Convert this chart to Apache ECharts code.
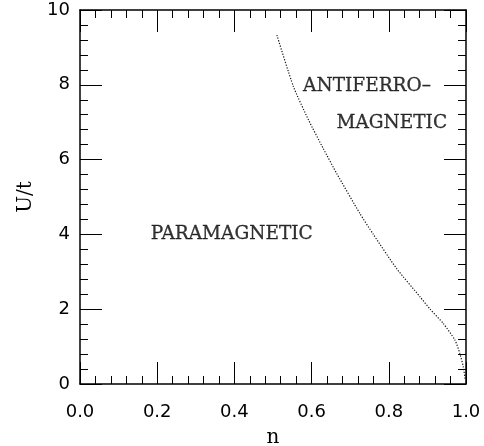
<!DOCTYPE html>
<html><head><meta charset="utf-8">
<script src="https://cdn.jsdelivr.net/npm/echarts@6/dist/echarts.min.js"></script>
<style>html,body{margin:0;padding:0;background:#fff}#c{width:484px;height:446px}</style>
</head><body><div id="c"></div>
<script>
// Phase boundary (n, U/t)
const boundaryN = [0.510, 0.553, 0.592, 0.630, 0.665, 0.725, 0.760, 0.820, 0.881, 0.907, 0.941, 0.971, 0.984, 0.993, 0.998];
const boundaryU = [9.33, 7.95, 7.06, 6.30, 5.63, 4.56, 4.00, 3.09, 2.33, 2.00, 1.62, 1.18, 0.82, 0.46, 0.10];
// Region labels
const regionText = ["PARAMAGNETIC", "ANTIFERRO\u2013", "MAGNETIC"];
const regionN = [0.393, 0.578, 0.951];
const regionU = [4.0, 7.95, 6.98];
const xTicks = ["0.0", "0.2", "0.4", "0.6", "0.8", "1.0"];
const yTicks = ["0", "2", "4", "6", "8", "10"];

const chart = echarts.init(document.getElementById('c'));
const serif = 'DejaVu Serif';
const sans = 'DejaVu Sans';
const lineC = '#000';
function axisBase(extra) {
  return Object.assign({
    axisLine: {show: true, onZero: false, lineStyle: {color: lineC, width: 1.5}},
    axisTick: {show: true, inside: true, length: 22, lineStyle: {color: lineC, width: 1}},
    minorTick: {show: true, splitNumber: 5, length: 8, lineStyle: {color: lineC, width: 1}},
    splitLine: {show: false},
    minorSplitLine: {show: false}
  }, extra);
}
const aligns = ['center', 'left', 'right'];
chart.setOption({
  animation: false,
  backgroundColor: '#fff',
  grid: {left: 80, right: 18, top: 10, bottom: 62, containLabel: false, outerBoundsMode: 'none'},
  xAxis: [
    axisBase({type: 'value', min: 0, max: 1, interval: 0.2, position: 'bottom',
      name: 'n', nameLocation: 'middle', nameGap: 44,
      nameTextStyle: {fontFamily: serif, fontSize: 20, color: '#000'},
      axisLabel: {margin: 19, fontFamily: sans, fontSize: 18, color: '#000',
        formatter: (v) => xTicks[Math.round(v / 0.2)]}}),
    axisBase({type: 'value', min: 0, max: 1, interval: 0.2, position: 'top', axisLabel: {show: false}})
  ],
  yAxis: [
    axisBase({type: 'value', min: 0, max: 10, interval: 2, position: 'left',
      name: 'U/t', nameLocation: 'middle', nameGap: 43, nameRotate: 90,
      nameTextStyle: {fontFamily: serif, fontSize: 20, color: '#000'},
      axisLabel: {margin: 10, fontFamily: sans, fontSize: 18, color: '#000',
        formatter: (v) => yTicks[Math.round(v / 2)]}}),
    axisBase({type: 'value', min: 0, max: 10, interval: 2, position: 'right', axisLabel: {show: false}})
  ],
  series: [
    {type: 'line', xAxisIndex: 0, yAxisIndex: 0, smooth: 0.2, symbol: 'none',
      lineStyle: {color: '#111', width: 1.2, type: [1.2, 1.6]},
      data: boundaryN.map((n, i) => [n, boundaryU[i]])},
    {type: 'scatter', xAxisIndex: 0, yAxisIndex: 0, symbolSize: 0,
      data: regionText.map((t, i) => ({value: [regionN[i], regionU[i]],
        label: {show: true, formatter: t, position: 'inside', align: aligns[i], verticalAlign: 'middle',
          fontFamily: serif, fontSize: 18.5, color: '#000', textBorderColor: '#000', textBorderWidth: 0.3}}))}
  ]
});
</script></body></html>
